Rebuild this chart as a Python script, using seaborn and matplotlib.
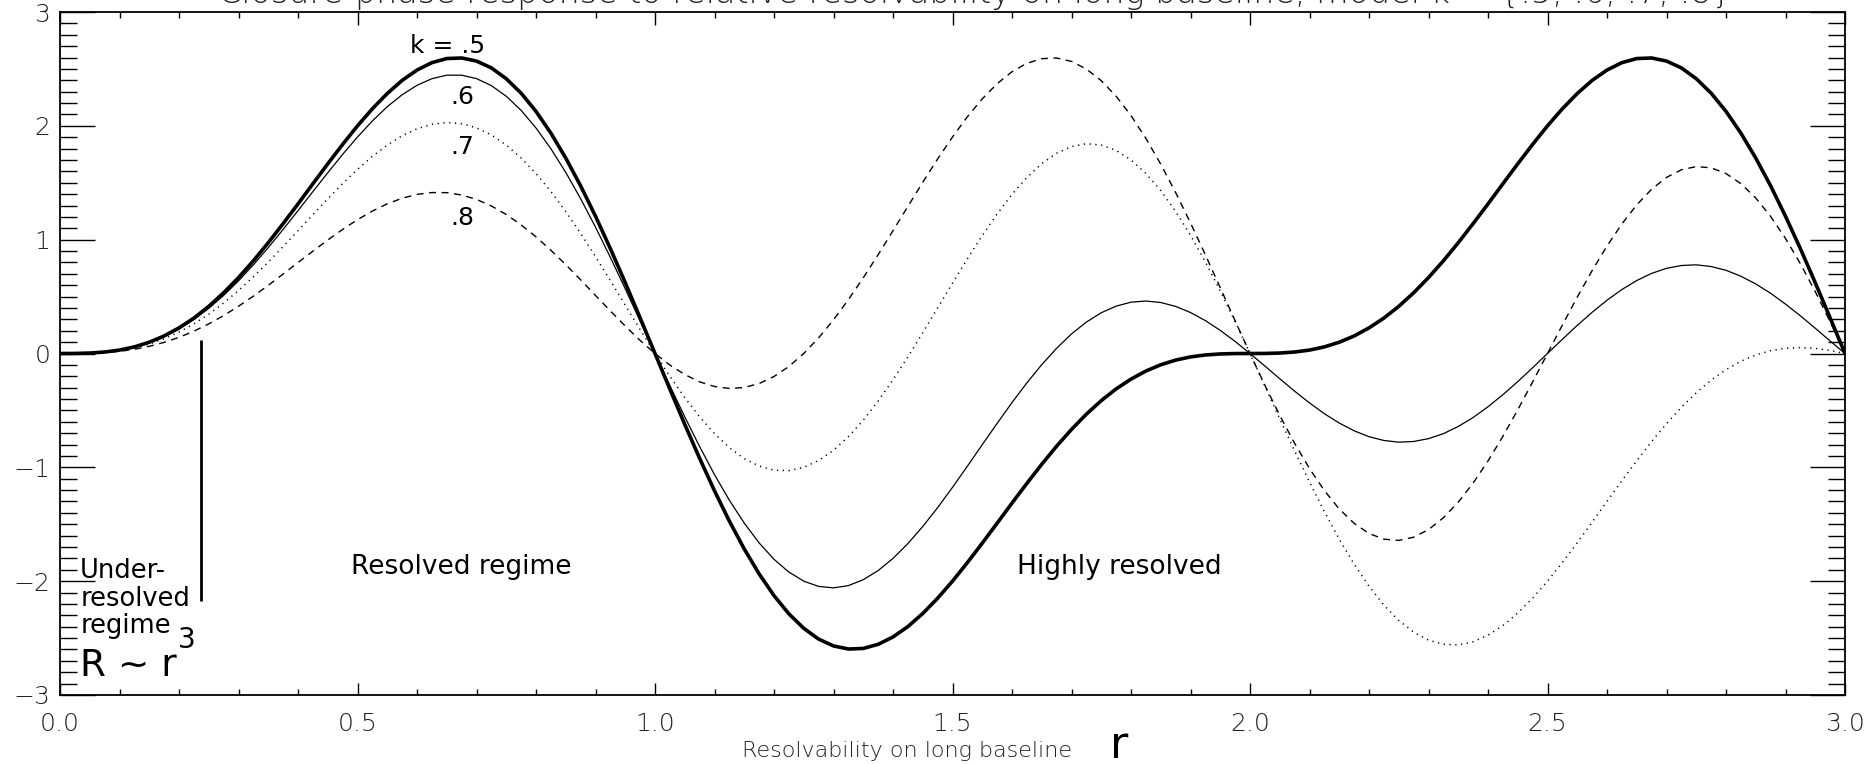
import numpy as np
import pandas as pd
import matplotlib
matplotlib.use("Agg")
import matplotlib.pyplot as plt
import seaborn as sns
from matplotlib.ticker import MultipleLocator, FormatStrFormatter

# ---------------- data ----------------
r = [0.000, 0.025, 0.050, 0.075, 0.100, 0.125, 0.150, 0.175, 0.200, 0.225,
     0.250, 0.275, 0.300, 0.325, 0.350, 0.375, 0.400, 0.425, 0.450, 0.475,
     0.500, 0.525, 0.550, 0.575, 0.600, 0.625, 0.650, 0.675, 0.700, 0.725,
     0.750, 0.775, 0.800, 0.825, 0.850, 0.875, 0.900, 0.925, 0.950, 0.975,
     1.000, 1.025, 1.050, 1.075, 1.100, 1.125, 1.150, 1.175, 1.200, 1.225,
     1.250, 1.275, 1.300, 1.325, 1.350, 1.375, 1.400, 1.425, 1.450, 1.475,
     1.500, 1.525, 1.550, 1.575, 1.600, 1.625, 1.650, 1.675, 1.700, 1.725,
     1.750, 1.775, 1.800, 1.825, 1.850, 1.875, 1.900, 1.925, 1.950, 1.975,
     2.000, 2.025, 2.050, 2.075, 2.100, 2.125, 2.150, 2.175, 2.200, 2.225,
     2.250, 2.275, 2.300, 2.325, 2.350, 2.375, 2.400, 2.425, 2.450, 2.475,
     2.500, 2.525, 2.550, 2.575, 2.600, 2.625, 2.650, 2.675, 2.700, 2.725,
     2.750, 2.775, 2.800, 2.825, 2.850, 2.875, 2.900, 2.925, 2.950, 2.975,
     3.000]

k05 = [0, 0.0005, 0.004, 0.013, 0.030, 0.058, 0.099, 0.154, 0.225, 0.311,
       0.414, 0.533, 0.667, 0.814, 0.973, 1.141, 1.314, 1.491, 1.666, 1.837,
       2.000, 2.150, 2.284, 2.399, 2.490, 2.555, 2.591, 2.596, 2.569, 2.509,
       2.414, 2.287, 2.127, 1.936, 1.717, 1.473, 1.206, 0.921, 0.622, 0.313,
       0, -0.313, -0.622, -0.921, -1.206, -1.473, -1.717, -1.936, -2.127, -2.287,
       -2.414, -2.509, -2.569, -2.596, -2.591, -2.555, -2.490, -2.399, -2.284, -2.150,
       -2.000, -1.837, -1.666, -1.491, -1.314, -1.141, -0.973, -0.814, -0.667, -0.533,
       -0.414, -0.311, -0.225, -0.154, -0.099, -0.058, -0.030, -0.013, -0.004, -0.0005,
       0, 0.0005, 0.004, 0.013, 0.030, 0.058, 0.099, 0.154, 0.225, 0.311,
       0.414, 0.533, 0.667, 0.814, 0.973, 1.141, 1.314, 1.491, 1.666, 1.837,
       2.000, 2.150, 2.284, 2.399, 2.490, 2.555, 2.591, 2.596, 2.569, 2.509,
       2.414, 2.287, 2.127, 1.936, 1.717, 1.473, 1.206, 0.921, 0.622, 0.313,
       0]

k06 = [0, 0.0005, 0.004, 0.012, 0.029, 0.056, 0.095, 0.148, 0.215, 0.298,
       0.397, 0.510, 0.638, 0.779, 0.930, 1.090, 1.255, 1.422, 1.588, 1.749,
       1.902, 2.043, 2.168, 2.273, 2.356, 2.414, 2.445, 2.445, 2.415, 2.353,
       2.260, 2.136, 1.981, 1.799, 1.591, 1.360, 1.110, 0.844, 0.568, 0.285,
       0, -0.282, -0.556, -0.818, -1.064, -1.289, -1.490, -1.664, -1.808, -1.920,
       -2.000, -2.046, -2.059, -2.039, -1.987, -1.907, -1.800, -1.670, -1.520, -1.354,
       -1.176, -0.990, -0.801, -0.614, -0.431, -0.258, -0.098, 0.046, 0.172, 0.276,
       0.358, 0.416, 0.451, 0.461, 0.448, 0.414, 0.360, 0.289, 0.203, 0.106,
       0, -0.110, -0.222, -0.331, -0.434, -0.529, -0.611, -0.679, -0.731, -0.764,
       -0.779, -0.773, -0.748, -0.704, -0.641, -0.562, -0.468, -0.362, -0.247, -0.125,
       0, 0.125, 0.247, 0.362, 0.468, 0.562, 0.641, 0.704, 0.748, 0.773,
       0.779, 0.764, 0.731, 0.679, 0.611, 0.529, 0.434, 0.331, 0.222, 0.110,
       0]

k07 = [0, 0.0004, 0.003, 0.011, 0.025, 0.049, 0.083, 0.129, 0.188, 0.260,
       0.345, 0.443, 0.553, 0.674, 0.803, 0.939, 1.079, 1.220, 1.359, 1.493,
       1.618, 1.732, 1.831, 1.913, 1.974, 2.014, 2.029, 2.019, 1.982, 1.920,
       1.831, 1.718, 1.581, 1.423, 1.247, 1.055, 0.851, 0.640, 0.424, 0.210,
       0, -0.200, -0.387, -0.556, -0.704, -0.827, -0.923, -0.989, -1.025, -1.029,
       -1.000, -0.940, -0.850, -0.731, -0.586, -0.418, -0.231, -0.030, 0.182, 0.400,
       0.618, 0.832, 1.036, 1.226, 1.398, 1.546, 1.668, 1.759, 1.818, 1.843,
       1.831, 1.784, 1.700, 1.582, 1.431, 1.248, 1.038, 0.804, 0.550, 0.280,
       0, -0.286, -0.573, -0.856, -1.129, -1.389, -1.631, -1.850, -2.044, -2.210,
       -2.345, -2.448, -2.518, -2.555, -2.560, -2.532, -2.475, -2.390, -2.280, -2.149,
       -2.000, -1.836, -1.662, -1.482, -1.299, -1.118, -0.942, -0.773, -0.616, -0.473,
       -0.345, -0.234, -0.142, -0.068, -0.013, 0.025, 0.046, 0.052, 0.045, 0.027,
       0]

k08 = [0, 0.0003, 0.003, 0.008, 0.019, 0.037, 0.063, 0.098, 0.142, 0.196,
       0.260, 0.333, 0.415, 0.504, 0.599, 0.698, 0.799, 0.899, 0.997, 1.090,
       1.176, 1.251, 1.315, 1.364, 1.398, 1.414, 1.413, 1.392, 1.354, 1.296,
       1.221, 1.130, 1.025, 0.907, 0.781, 0.647, 0.510, 0.374, 0.241, 0.115,
       0, -0.101, -0.185, -0.249, -0.290, -0.307, -0.299, -0.264, -0.202, -0.114,
       0, 0.137, 0.296, 0.473, 0.665, 0.868, 1.079, 1.292, 1.504, 1.709,
       1.902, 2.080, 2.237, 2.370, 2.475, 2.549, 2.590, 2.596, 2.566, 2.499,
       2.397, 2.260, 2.090, 1.890, 1.663, 1.414, 1.147, 0.867, 0.578, 0.288,
       0, -0.279, -0.544, -0.789, -1.011, -1.204, -1.366, -1.492, -1.581, -1.631,
       -1.642, -1.614, -1.547, -1.443, -1.306, -1.138, -0.944, -0.728, -0.495, -0.250,
       0, 0.250, 0.495, 0.728, 0.944, 1.138, 1.306, 1.443, 1.547, 1.614,
       1.642, 1.631, 1.581, 1.492, 1.366, 1.204, 1.011, 0.789, 0.544, 0.279,
       0]

curve_labels = ["k = .5", ".6", ".7", ".8"]
xtick_values = [0.0, 0.5, 1.0, 1.5, 2.0, 2.5, 3.0]
ytick_values = [-3, -2, -1, 0, 1, 2, 3]

title_text = "Closure-phase response to relative resolvability on long baseline, model k = {.5, .6, .7, .8}"
xlabel_text = "Resolvability on long baseline"

# ---------------- style ----------------
sns.set_theme(style="white")
plt.rcParams['font.family'] = ['DejaVu Sans']
plt.rcParams['axes.unicode_minus'] = True

fig = plt.figure(figsize=(18.75, 7.64), dpi=100)
ax = fig.add_axes([60 / 1875, 1 - 695 / 764, 1785 / 1875, 683 / 764])

df = pd.DataFrame({"r": r, "k05": k05, "k06": k06, "k07": k07, "k08": k08})
line_styles = [
    ("k05", 2.6, "-"),
    ("k06", 0.9, "-"),
    ("k07", 1.1, (0, (0.8, 3.0))),
    ("k08", 1.0, (0, (5, 4))),
]
for col, lw, ls in line_styles:
    sns.lineplot(data=df, x="r", y=col, ax=ax, color="black",
                 linewidth=lw, linestyle=ls, estimator=None, sort=False,
                 solid_joinstyle='round')

ax.set_xlim(0, 3)
ax.set_ylim(-3, 3)
ax.set_xlabel("")
ax.set_ylabel("")
ax.set_xticks(xtick_values)
ax.set_yticks(ytick_values)
ax.xaxis.set_minor_locator(MultipleLocator(0.1))
ax.yaxis.set_minor_locator(MultipleLocator(0.1))
ax.xaxis.set_major_formatter(FormatStrFormatter('%.1f'))

ax.tick_params(axis='x', which='major', direction='in', length=9, width=1.0,
               top=True, bottom=True, pad=12, labelsize=18, colors='black',
               labelcolor='#222222')
ax.tick_params(axis='x', which='minor', direction='in', length=4.5, width=1.0,
               top=True, bottom=True, colors='black')
ax.tick_params(axis='y', which='major', direction='in', length=25, width=1.0,
               left=True, right=True, pad=7, labelsize=18, colors='black',
               labelcolor='#222222')
ax.tick_params(axis='y', which='minor', direction='in', length=12, width=1.0,
               left=True, right=True, colors='black')
for lab in ax.get_xticklabels() + ax.get_yticklabels():
    lab.set_fontweight('light')
for sp in ax.spines.values():
    sp.set_color('black')
    sp.set_linewidth(1.3)

# ---------------- annotations ----------------
ax.text(0.652, 2.70, curve_labels[0], ha='center', va='center', fontsize=18, color='black')
ax.text(0.676, 2.25, curve_labels[1], ha='center', va='center', fontsize=18, color='black')
ax.text(0.676, 1.81, curve_labels[2], ha='center', va='center', fontsize=18, color='black')
ax.text(0.676, 1.19, curve_labels[3], ha='center', va='center', fontsize=18, color='black')

ax.text(0.674, -1.878, "Resolved regime", ha='center', va='center', fontsize=19, color='black')
ax.text(1.780, -1.878, "Highly resolved", ha='center', va='center', fontsize=19, color='black')

ax.text(0.034, -1.968, "Under-", ha='left', va='baseline', fontsize=18.5, color='black')
ax.text(0.034, -2.214, "resolved", ha='left', va='baseline', fontsize=18.5, color='black')
ax.text(0.034, -2.452, "regime", ha='left', va='baseline', fontsize=18.5, color='black')
ax.text(0.034, -2.83, "R ~ r", ha='left', va='baseline', fontsize=27, color='black')
ax.text(0.198, -2.583, "3", ha='left', va='baseline', fontsize=20, color='black')

ax.vlines(0.237, -2.17, 0.12, color='black', linewidth=2.0)

# ---------------- titles ----------------
fig.text(975 / 1875, 1 - 3 / 764, title_text, ha='center', va='baseline',
         fontsize=24, fontweight='light', color='#222222')
fig.text(907 / 1875, 1 - 751 / 764, xlabel_text, ha='center', va='center',
         fontsize=16, fontweight='light', color='#222222')
fig.text(1119 / 1875, 1 - 746 / 764, "r", ha='center', va='center',
         fontsize=32, color='black')

fig.savefig("out.png", dpi=100)
